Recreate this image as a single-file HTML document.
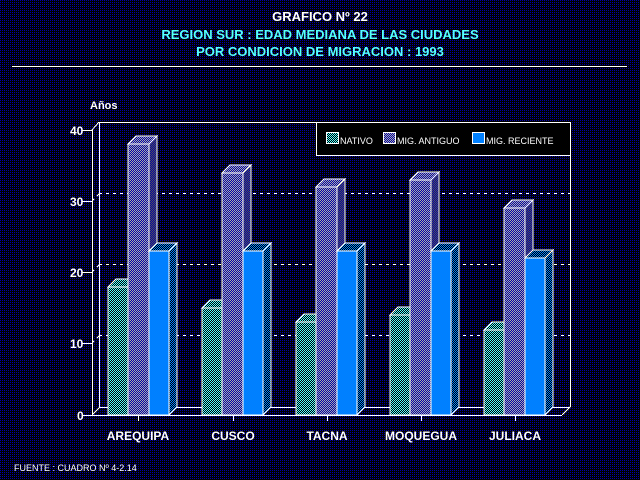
<!DOCTYPE html>
<html><head><meta charset="utf-8"><style>
html,body{margin:0;padding:0;background:#000;}
svg{display:block;}
text{font-family:"Liberation Sans",sans-serif;font-weight:bold;}
</style></head><body>
<svg width="640" height="480" viewBox="0 0 640 480" xmlns="http://www.w3.org/2000/svg" shape-rendering="crispEdges">
<defs>
<pattern id="bg" width="2" height="2" patternUnits="userSpaceOnUse"><rect width="2" height="2" fill="#000"/><rect width="1" height="1" fill="#0000aa"/></pattern>
<pattern id="nat" width="2" height="2" patternUnits="userSpaceOnUse"><rect width="2" height="2" fill="#000"/><rect width="1" height="1" fill="#55ffff"/><rect x="1" y="1" width="1" height="1" fill="#55ffff"/></pattern>
<pattern id="ant" width="2" height="2" patternUnits="userSpaceOnUse"><rect width="2" height="2" fill="#0000aa"/><rect width="1" height="1" fill="#aaaaaa"/><rect x="1" y="1" width="1" height="1" fill="#aaaaaa"/></pattern>
<pattern id="antS" width="2" height="2" patternUnits="userSpaceOnUse"><rect width="2" height="2" fill="#0000aa"/><rect width="1" height="1" fill="#555555"/><rect x="1" y="1" width="1" height="1" fill="#555555"/></pattern>
<pattern id="recS" width="2" height="2" patternUnits="userSpaceOnUse"><rect width="2" height="2" fill="#000"/><rect width="1" height="1" fill="#0080ff"/><rect x="1" y="1" width="1" height="1" fill="#0080ff"/></pattern>
</defs>
<rect width="640" height="480" fill="url(#bg)"/>
<text x="320" y="21" fill="#fff" font-size="13" text-anchor="middle">GRAFICO Nº 22</text>
<text x="320" y="39" fill="#55ffff" font-size="13" text-anchor="middle">REGION SUR : EDAD MEDIANA DE LAS CIUDADES</text>
<text x="320" y="56" fill="#55ffff" font-size="13" text-anchor="middle">POR CONDICION DE MIGRACION : 1993</text>
<line x1="12" y1="66.5" x2="627" y2="66.5" stroke="#fff"/>
<text x="90" y="109" fill="#fff" font-size="11">Años</text>
<g stroke="#fff" fill="none">
<line x1="92.5" y1="130" x2="92.5" y2="415"/>
<line x1="92" y1="130" x2="99" y2="122"/>
<line x1="99.5" y1="122" x2="99.5" y2="407"/>
<line x1="99" y1="122.5" x2="570" y2="122.5"/>
<line x1="570.5" y1="122" x2="570.5" y2="407"/>
<line x1="82" y1="415.5" x2="562" y2="415.5"/>
<line x1="562" y1="415" x2="570" y2="407"/>
<line x1="92" y1="415" x2="100" y2="407"/>
<line x1="82" y1="130.5" x2="92" y2="130.5"/>
<line x1="82" y1="201.5" x2="92" y2="201.5"/>
<line x1="82" y1="272.5" x2="92" y2="272.5"/>
<line x1="82" y1="343.5" x2="92" y2="343.5"/>
<g stroke-dasharray="3,4">
<line x1="99" y1="193.5" x2="570" y2="193.5"/>
<line x1="99" y1="264.5" x2="570" y2="264.5"/>
<line x1="99" y1="335.5" x2="570" y2="335.5"/>
<line x1="92" y1="201" x2="99" y2="194"/>
<line x1="92" y1="272" x2="99" y2="265"/>
<line x1="92" y1="343" x2="99" y2="336"/>
</g>
<line x1="138.5" y1="415" x2="138.5" y2="421"/>
<line x1="233.5" y1="415" x2="233.5" y2="421"/>
<line x1="327.5" y1="415" x2="327.5" y2="421"/>
<line x1="421.5" y1="415" x2="421.5" y2="421"/>
<line x1="515.5" y1="415" x2="515.5" y2="421"/>
<line x1="169" y1="407.5" x2="202" y2="407.5"/>
<line x1="263" y1="407.5" x2="296" y2="407.5"/>
<line x1="357" y1="407.5" x2="390" y2="407.5"/>
<line x1="451" y1="407.5" x2="484" y2="407.5"/>
<line x1="545" y1="407.5" x2="570" y2="407.5"/>
<line x1="100" y1="407.5" x2="108" y2="407.5"/>
</g>
<g fill="#fff" font-size="12">
<text x="70" y="135">40</text><text x="70" y="206">30</text><text x="70" y="277">20</text><text x="70" y="348">10</text><text x="77" y="420">0</text>
</g>
<g stroke="#fff" stroke-width="1">
<!-- AREQUIPA -->
<polygon points="128,415 136,407 136,279 128,287" fill="url(#nat)"/><polygon points="108,287 116,279 136,279 128,287" fill="url(#nat)"/><rect x="108" y="287" width="20" height="128" fill="url(#nat)"/>
<polygon points="149,415 157,407 157,136 149,144" fill="url(#antS)"/><polygon points="128,144 136,136 157,136 149,144" fill="url(#ant)"/><rect x="128" y="144" width="21" height="271" fill="url(#ant)"/>
<polygon points="169,415 177,407 177,243 169,251" fill="url(#recS)"/><polygon points="149,251 157,243 177,243 169,251" fill="url(#recS)"/><rect x="149" y="251" width="20" height="164" fill="#0080ff"/>
<!-- CUSCO -->
<polygon points="222,415 230,407 230,300 222,308" fill="url(#nat)"/><polygon points="202,308 210,300 230,300 222,308" fill="url(#nat)"/><rect x="202" y="308" width="20" height="107" fill="url(#nat)"/>
<polygon points="243,415 251,407 251,165 243,173" fill="url(#antS)"/><polygon points="222,173 230,165 251,165 243,173" fill="url(#ant)"/><rect x="222" y="173" width="21" height="242" fill="url(#ant)"/>
<polygon points="263,415 271,407 271,243 263,251" fill="url(#recS)"/><polygon points="243,251 251,243 271,243 263,251" fill="url(#recS)"/><rect x="243" y="251" width="20" height="164" fill="#0080ff"/>
<!-- TACNA -->
<polygon points="316,415 324,407 324,314 316,322" fill="url(#nat)"/><polygon points="296,322 304,314 324,314 316,322" fill="url(#nat)"/><rect x="296" y="322" width="20" height="93" fill="url(#nat)"/>
<polygon points="337,415 345,407 345,179 337,187" fill="url(#antS)"/><polygon points="316,187 324,179 345,179 337,187" fill="url(#ant)"/><rect x="316" y="187" width="21" height="228" fill="url(#ant)"/>
<polygon points="357,415 365,407 365,243 357,251" fill="url(#recS)"/><polygon points="337,251 345,243 365,243 357,251" fill="url(#recS)"/><rect x="337" y="251" width="20" height="164" fill="#0080ff"/>
<!-- MOQUEGUA -->
<polygon points="410,415 418,407 418,307 410,315" fill="url(#nat)"/><polygon points="390,315 398,307 418,307 410,315" fill="url(#nat)"/><rect x="390" y="315" width="20" height="100" fill="url(#nat)"/>
<polygon points="431,415 439,407 439,172 431,180" fill="url(#antS)"/><polygon points="410,180 418,172 439,172 431,180" fill="url(#ant)"/><rect x="410" y="180" width="21" height="235" fill="url(#ant)"/>
<polygon points="451,415 459,407 459,243 451,251" fill="url(#recS)"/><polygon points="431,251 439,243 459,243 451,251" fill="url(#recS)"/><rect x="431" y="251" width="20" height="164" fill="#0080ff"/>
<!-- JULIACA -->
<polygon points="504,415 512,407 512,322 504,330" fill="url(#nat)"/><polygon points="484,330 492,322 512,322 504,330" fill="url(#nat)"/><rect x="484" y="330" width="20" height="85" fill="url(#nat)"/>
<polygon points="525,415 533,407 533,200 525,208" fill="url(#antS)"/><polygon points="504,208 512,200 533,200 525,208" fill="url(#ant)"/><rect x="504" y="208" width="21" height="207" fill="url(#ant)"/>
<polygon points="545,415 553,407 553,250 545,258" fill="url(#recS)"/><polygon points="525,258 533,250 553,250 545,258" fill="url(#recS)"/><rect x="525" y="258" width="20" height="157" fill="#0080ff"/>
</g>
<g fill="#fff" font-size="12" text-anchor="middle">
<text x="138" y="440">AREQUIPA</text><text x="233" y="440">CUSCO</text><text x="327" y="440">TACNA</text><text x="421" y="440">MOQUEGUA</text><text x="515" y="440">JULIACA</text>
</g>
<text x="14" y="471" fill="#fff" font-size="9" style="font-weight:normal">FUENTE : CUADRO Nº 4-2.14</text>
<rect x="316.5" y="122.5" width="254" height="33" fill="#000" stroke="#fff"/>
<rect x="326.5" y="132.5" width="12" height="11" fill="url(#nat)" stroke="#fff"/>
<text x="340" y="144" fill="#fff" font-size="9" style="font-weight:normal">NATIVO</text>
<rect x="383.5" y="132.5" width="12" height="11" fill="url(#ant)" stroke="#fff"/>
<text x="397" y="144" fill="#fff" font-size="9" style="font-weight:normal">MIG. ANTIGUO</text>
<rect x="472.5" y="132.5" width="12" height="11" fill="#0080ff" stroke="#fff"/>
<text x="486" y="144" fill="#fff" font-size="9" style="font-weight:normal">MIG. RECIENTE</text>
</svg>
</body></html>
